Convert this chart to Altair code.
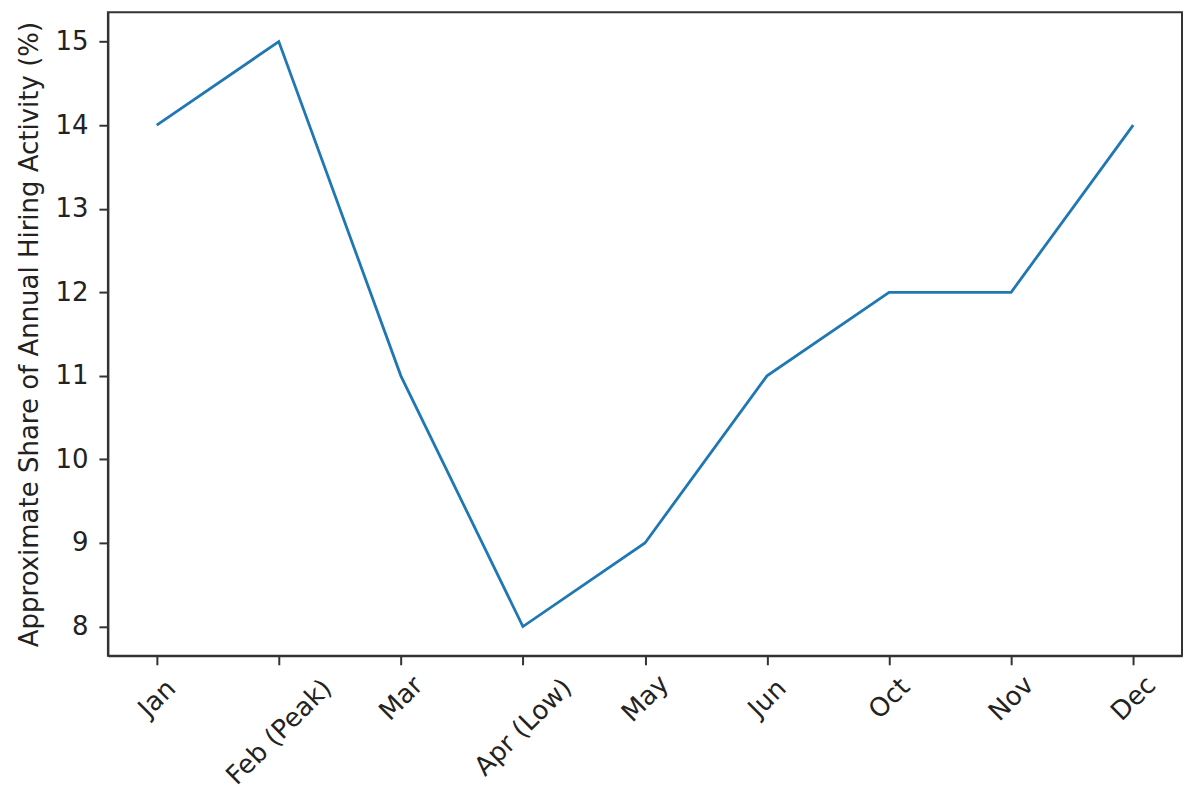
import altair as alt
import pandas as pd

months = ["Jan", "Feb (Peak)", "Mar", "Apr (Low)", "May", "Jun", "Oct", "Nov", "Dec"]
shares = [14, 15, 11, 8, 9, 11, 12, 12, 14]
y_ticks = [8, 9, 10, 11, 12, 13, 14, 15]

df = pd.DataFrame({"month": months, "share": shares})

FONT = "DejaVu Sans"
FS = 26

chart = (
    alt.Chart(df)
    .mark_line(color="#1f77b4", strokeWidth=2.8)
    .encode(
        x=alt.X(
            "month:N",
            sort=months,
            scale=alt.Scale(type="point", padding=0.4),
            axis=alt.Axis(
                title=None,
                labelAngle=-45,
                labelAlign="center",
                labelBaseline="middle",
                labelFontSize=FS,
                labelPadding={"expr": "19 + 4.8 * length(datum.label)"},
                tickSize=9,
                grid=False,
            ),
        ),
        y=alt.Y(
            "share:Q",
            scale=alt.Scale(domain=[7.65, 15.35], nice=False, zero=False),
            axis=alt.Axis(
                title="Approximate Share of Annual Hiring Activity (%)",
                titleFontSize=FS,
                titleFontWeight="normal",
                titleX=-78,
                titleY=322,
                titleAlign="center",
                titleBaseline="middle",
                titleAngle=-90,
                values=y_ticks,
                labelFontSize=FS,
                labelPadding=11,
                tickSize=9,
                grid=False,
            ),
        ),
    )
    .properties(
        width=1075,
        height=644,
        padding={"left": 100, "top": 4, "right": 10, "bottom": 140},
        autosize=alt.AutoSizeParams(type="none"),
    )
    .configure_axis(
        domainColor="#333333",
        domainWidth=2,
        tickColor="#333333",
        tickWidth=2,
        labelColor="#222222",
        titleColor="#222222",
        labelFont=FONT,
        titleFont=FONT,
    )
    .configure_view(stroke="#333333", strokeWidth=2)
)

chart.save("out.html", embed_options={"renderer": "svg", "actions": False})
